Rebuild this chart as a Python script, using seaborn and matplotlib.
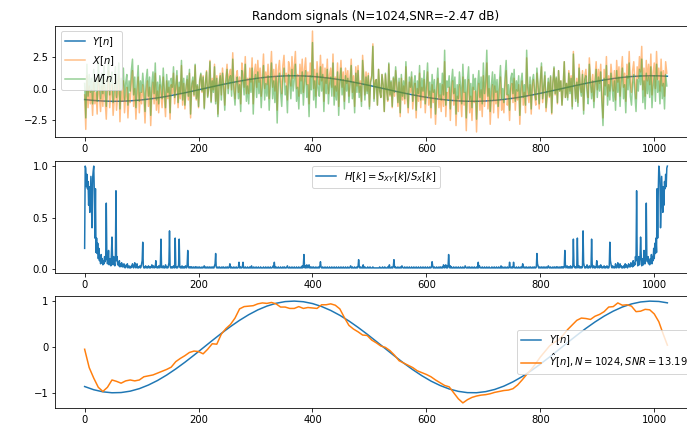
import numpy as np
import matplotlib
matplotlib.use("Agg")
import matplotlib.pyplot as plt
from matplotlib.ticker import MultipleLocator
import seaborn as sns

# ---------------------------------------------------------------- data
# clean signal Y[n], sampled every 16 samples (plus the last sample)
n_y = list(range(0, 1009, 16)) + [1023]
y_clean = [-0.863, -0.933, -0.978, -0.999, -0.994, -0.964, -0.909, -0.830, -0.731, -0.613,
           -0.479, -0.334, -0.179, -0.020, 0.140, 0.296, 0.444, 0.581, 0.703, 0.808,
           0.891, 0.952, 0.989, 1.000, 0.986, 0.946, 0.882, 0.796, 0.690, 0.566,
           0.427, 0.278, 0.121, -0.038, -0.197, -0.351, -0.495, -0.627, -0.744, -0.840,
           -0.916, -0.968, -0.996, -0.998, -0.974, -0.926, -0.854, -0.760, -0.647, -0.517,
           -0.374, -0.221, -0.063, 0.097, 0.254, 0.405, 0.545, 0.672, 0.781, 0.871,
           0.938, 0.981, 0.999, 0.992, 0.962]

# noise W[n] and observation X[n], every second sample
n_noise = list(range(0, 1024, 2))
w_noise = [
    0.4, -2.3, 1.9, -0.6, 1.1, -0.3, 0.8, -1.2, 1.5, -0.2, 0.7, -1.0, 2.1, 0.3, -0.8, 1.2,
    -0.4, 1.8, 0.1, -1.4, 0.9, 2.4, -0.5, 0.6, 1.3, -1.1, 0.2, 1.7, -0.7, 0.5, 2.0, -1.6,
    0.8, 0.0, 1.6, -0.9, 0.4, 1.1, -1.3, 0.6, -0.2, 1.4, 2.3, -0.5, 0.9, -1.5, 0.3, 1.8,
    -1.0, 0.6, -0.3, 1.2, 0.1, -1.8, 0.7, 1.5, -0.6, 0.9, -2.1, 0.4, 1.3, -0.4, 2.0, -0.9,
    0.5, -1.2, 1.0, 0.2, -0.8, 1.6, -0.1, -1.5, 1.1, -0.3, 0.6, -1.9, 0.8, 0.1, 1.7, -0.7,
    0.3, 1.4, -1.1, 0.5, -0.4, 2.2, -0.9, 0.8, -1.3, 0.2, 1.0, -0.6, 1.5, -2.0, 0.4, 0.9,
    -0.5, 1.9, -0.8, 0.3, -1.4, 0.7, 1.2, -0.2, 0.9, -1.6, 0.4, 1.3, -0.7, 0.0, 2.1, -1.1,
    0.6, -0.3, 1.7, -1.2, 0.8, -2.2, 0.2, 1.0, -0.9, 1.2, 0.1, -1.7, 0.5, 1.5, -0.4, 0.7,
    1.0, -0.6, 2.3, -0.2, -1.3, 0.4, 0.9, -0.8, 0.3, -1.8, 1.4, 0.6, -0.5, 1.9, -1.0, 0.2,
    -1.2, 0.8, -0.3, 1.6, -2.0, 0.5, 1.1, -0.7, 1.3, -0.4, 0.7, -1.5, 0.2, 1.8, -0.9, 0.4,
    -0.6, 1.0, -1.7, 0.3, 2.0, -0.8, 0.6, -1.1, 0.9, -2.7, 0.4, 1.2, -0.3, -1.4, 0.8, 1.6,
    -0.5, 0.2, -1.9, 1.1, 0.6, -0.8, 1.5, -0.2, 0.7, 1.9, -1.0, 0.1, -1.6, 0.9, -0.4, 1.3,
    -1.3, 0.5, 1.4, -0.7, 0.3, -2.2, 1.0, -0.1, 3.6, -0.9, 0.6, -1.5, 1.2, 0.0, -0.6, 1.7,
    -0.2, 1.1, -1.8, 0.8, -0.4, 1.5, -1.2, 0.3, 0.9, -0.6, 2.0, -1.3, 0.2, -0.9, 1.3, -2.1,
    0.4, 1.6, -0.5, 0.7, -1.6, 1.0, -0.2, 0.8, -1.1, 0.3, 1.8, -0.8, 0.5, -1.9, 1.2, -0.3,
    1.4, -0.7, 0.2, -1.4, 2.2, 0.6, -0.9, 0.9, -0.4, 1.0, -1.6, 0.5, 0.8, 3.3, -1.0, 0.4,
    0.7, -1.3, 1.5, -0.2, -0.7, 1.1, 0.3, -1.8, 1.2, 0.0, -0.9, 2.0, -0.5, 0.6, -1.4, 0.9,
    -0.3, 1.7, 0.4, -1.1, 0.8, -1.9, 1.1, -0.6, 0.6, -0.8, 2.1, -0.2, -1.5, 0.9, 0.1, 1.3,
    -1.0, 0.4, 1.0, -1.7, 0.6, -0.4, 1.8, -0.9, 0.8, -0.2, 1.4, -1.2, 0.3, 2.0, -0.6, 0.5,
    -1.5, 1.1, -0.3, 0.7, -2.0, 0.2, 1.6, -0.7, 0.4, -0.9, 1.2, -0.5, 3.0, -1.3, 0.6, 0.1,
    1.0, -1.6, 0.5, 1.5, -0.4, 0.9, -2.0, 0.3, -0.8, 1.3, 0.2, -1.2, 1.9, -0.3, 0.7, -2.3,
    0.6, 1.7, -0.9, 0.4, -1.5, 1.1, -0.1, 0.8, -2.4, 0.3, 1.4, -0.7, 0.9, -1.2, 2.0, -0.4,
    0.5, 3.0, -0.6, 1.0, -1.8, 0.2, 1.3, -0.9, 1.1, -0.3, 0.7, -1.4, 0.4, 1.8, -0.8, 0.0,
    -1.1, 0.9, 2.2, -0.5, 0.3, -1.7, 0.8, 1.2, -0.4, 1.5, -1.0, 0.6, -0.2, 1.0, -2.1, 0.5,
    1.2, -0.7, 0.3, -1.3, 3.0, 0.1, -0.5, 0.9, -1.6, 0.6, 1.1, -0.2, -0.9, 1.6, 0.4, -1.2,
    0.7, 2.0, -0.8, 0.2, 1.3, -1.5, -0.3, 0.8, -0.6, 1.0, -1.9, 0.5, 1.7, -0.4, 0.9, -1.1,
    1.4, -0.2, 0.6, -1.3, 0.1, 2.1, -0.7, 0.4, -0.9, 1.2, -0.4, 0.8, -1.6, 2.7, 0.3, -1.0,
    0.5, -1.4, 1.6, 0.0, -0.6, 1.1, -2.0, 0.7, 1.0, -0.3, -1.2, 1.9, 0.4, -0.8, 0.6, -1.5,
    0.2, 1.5, -0.7, 0.9, -0.2, 1.3, -1.1, -2.9, 0.8, -0.5, 1.8, -1.3, 0.3, -0.9, 1.2, 0.1,
    -1.0, 0.6, -1.7, 1.4, -0.3, 0.9, -1.4, 0.5, 1.6, -0.8, 0.3, -1.9, 1.0, -0.1, 2.0, -0.6,
    -1.3, 0.4, 1.1, -0.5, -1.8, 0.7, -0.2, 1.5, 0.3, 2.3, -1.1, 0.6, -1.6, 1.2, -0.4, 0.9,
    -0.7, 1.7, -1.5, 0.2, 1.0, -1.0, 1.9, -0.3, 0.6, -1.2, 1.3, -0.8, 0.4, -1.6, 1.1, 0.2,
]
x_obs = [
    -0.5, -3.2, 1.0, -1.5, 0.2, -1.2, -0.1, -2.1, 0.5, -1.2, -0.3, -2.0, 1.1, -0.7, -1.8, 0.2,
    -1.4, 0.8, -0.9, -2.4, -0.1, 1.4, -1.5, -0.4, 0.3, -2.1, -0.8, 0.7, -1.7, -0.5, 1.0, -2.6,
    -0.2, -1.0, 0.6, -1.9, -0.6, 0.1, -2.3, -0.4, -1.1, 0.5, 1.4, -1.4, 0.0, -2.4, -0.6, 0.9,
    -1.9, -0.3, -1.2, 0.3, -0.8, -2.7, -0.2, 0.6, -1.4, 0.1, -2.9, -0.4, 0.5, -1.2, 1.2, -1.7,
    -0.2, -1.9, 0.3, -0.5, -1.5, 0.9, -0.8, -2.2, 0.6, -0.8, 0.1, -2.4, 0.3, -0.4, 1.2, -1.2,
    -0.1, 1.0, -1.5, 0.1, -0.8, 1.8, -1.3, 0.4, -1.6, -0.1, 0.7, -0.9, 1.2, -2.3, 0.1, 0.6,
    -0.6, 1.8, -0.9, 0.2, -1.5, 0.6, 1.1, -0.3, 1.0, -1.5, 0.5, 1.4, -0.6, 0.1, 2.2, -1.0,
    0.8, -0.1, 1.9, -1.0, 1.0, -2.0, 0.4, 1.2, -0.5, 1.6, 0.5, -1.3, 0.9, 1.9, 0.0, 1.1,
    1.5, -0.1, 2.8, 0.3, -0.8, 0.9, 1.4, -0.3, 0.9, -1.2, 2.0, 1.2, 0.1, 2.5, -0.4, 0.8,
    -0.4, 1.6, 0.5, 2.4, -1.2, 1.3, 1.9, 0.1, 2.2, 0.5, 1.6, -0.6, 1.1, 2.7, 0.0, 1.3,
    0.3, 1.9, -0.8, 1.2, 2.9, 0.1, 1.5, -0.2, 1.9, -1.7, 1.4, 2.2, 0.7, -0.4, 1.8, 2.6,
    0.5, 1.2, -0.9, 2.1, 1.6, 0.2, 2.5, 0.8, 1.7, 2.9, 0.0, 1.1, -0.6, 1.9, 0.6, 2.3,
    -0.3, 1.5, 2.4, 0.3, 1.3, -1.2, 2.0, 0.9, 4.5, 0.0, 1.5, -0.6, 2.1, 0.9, 0.3, 2.6,
    0.6, 1.9, -1.0, 1.6, 0.4, 2.3, -0.4, 1.1, 1.6, 0.1, 2.7, -0.6, 0.9, -0.2, 2.0, -1.4,
    1.0, 2.2, 0.1, 1.3, -1.0, 1.6, 0.4, 1.4, -0.6, 0.8, 2.3, -0.3, 1.0, -1.4, 1.7, 0.2,
    1.8, -0.3, 0.6, -1.0, 2.6, 1.0, -0.5, 1.3, -0.2, 1.2, -1.4, 0.7, 1.0, 3.5, -0.8, 0.6,
    0.7, -1.3, 1.5, -0.2, -0.7, 1.1, 0.3, -1.8, 1.1, -0.1, -1.0, 1.9, -0.6, 0.5, -1.5, 0.8,
    -0.6, 1.4, 0.1, -1.4, 0.5, -2.2, 0.8, -0.9, 0.2, -1.2, 1.7, -0.6, -1.9, 0.5, -0.3, 0.9,
    -1.6, -0.2, 0.4, -2.3, 0.0, -1.0, 1.2, -1.5, 0.1, -0.9, 0.7, -1.9, -0.4, 1.3, -1.3, -0.2,
    -2.3, 0.3, -1.1, -0.1, -2.8, -0.6, 0.8, -1.5, -0.5, -1.8, 0.3, -1.4, 2.1, -2.2, -0.3, -0.8,
    0.1, -2.5, -0.4, 0.6, -1.3, 0.0, -2.9, -0.6, -1.8, 0.3, -0.8, -2.2, 0.9, -1.3, -0.3, -3.3,
    -0.4, 0.7, -1.9, -0.6, -2.5, 0.1, -1.1, -0.2, -3.4, -0.7, 0.4, -1.7, -0.1, -2.2, 1.0, -1.4,
    -0.5, 2.0, -1.6, 0.0, -2.8, -0.8, 0.3, -1.9, 0.2, -1.2, -0.2, -2.3, -0.5, 0.9, -1.7, -0.9,
    -1.9, 0.1, 1.4, -1.3, -0.5, -2.5, 0.0, 0.4, -1.1, 0.8, -1.7, -0.1, -0.9, 0.3, -2.8, -0.2,
    0.6, -1.3, -0.3, -1.9, 2.4, -0.5, -1.1, 0.3, -2.0, 0.2, 0.7, -0.6, -1.3, 1.2, 0.0, -1.6,
    0.4, 1.7, -1.1, -0.1, 1.0, -1.8, -0.6, 0.5, -0.7, 0.9, -2.0, 0.4, 1.6, -0.5, 0.8, -1.2,
    1.4, -0.2, 0.6, -1.3, 0.1, 2.1, -0.7, 0.4, -0.7, 1.4, -0.2, 1.0, -1.4, 2.9, 0.5, -0.8,
    0.8, -1.1, 1.9, 0.3, -0.3, 1.4, -1.7, 1.0, 1.5, 0.2, -0.7, 2.4, 0.9, -0.3, 1.1, -1.0,
    0.8, 2.1, -0.1, 1.5, 0.4, 1.9, -0.5, -2.3, 1.5, 0.2, 2.5, -0.6, 1.0, -0.2, 1.9, 0.8,
    -0.2, 1.4, -0.9, 2.2, 0.5, 1.7, -0.6, 1.3, 2.5, 0.1, 1.2, -1.0, 1.9, 0.8, 2.9, 0.3,
    -0.3, 1.4, 2.1, 0.5, -0.8, 1.7, 0.8, 2.5, 1.3, 3.3, -0.1, 1.6, -0.6, 2.2, 0.6, 1.9,
    0.3, 2.7, -0.5, 1.2, 2.0, 0.0, 2.9, 0.7, 1.6, -0.2, 2.3, 0.2, 1.4, -0.6, 2.1, 1.2,
]

# transfer estimate H[k] for k = 0..512; the spectrum of a real signal is
# conjugate-symmetric, so the upper half repeats these values in reverse
h_half = [
    0.20, 1.00, 0.98, 0.80, 0.92, 0.78, 0.85, 0.62, 0.80, 0.55, 0.72, 0.90, 0.60, 0.40, 0.88, 0.95,
    1.00, 0.75, 0.30, 0.78, 0.16, 0.30, 0.15, 0.25, 0.10, 0.20, 0.08, 0.12, 0.05, 0.14, 0.06, 0.10,
    0.04, 0.08, 0.05, 0.12, 0.07, 0.10, 0.64, 0.12, 0.05, 0.08, 0.18, 0.04, 0.06, 0.10, 0.03, 0.15,
    0.31, 0.10, 0.04, 0.12, 0.06, 0.03, 0.10, 0.76, 0.08, 0.12, 0.04, 0.06, 0.03, 0.08, 0.02, 0.05,
    0.03, 0.06, 0.02, 0.04, 0.02, 0.05, 0.03, 0.01, 0.02, 0.04, 0.02, 0.05, 0.01, 0.02, 0.03, 0.01,
    0.02, 0.01, 0.03, 0.02, 0.05, 0.02, 0.01, 0.03, 0.06, 0.02, 0.01, 0.02, 0.05, 0.01, 0.02, 0.01,
    0.02, 0.03, 0.01, 0.02, 0.05, 0.08, 0.26, 0.03, 0.01, 0.02, 0.01, 0.03, 0.02, 0.01, 0.02, 0.01,
    0.03, 0.02, 0.01, 0.02, 0.01, 0.02, 0.04, 0.02, 0.01, 0.03, 0.02, 0.01, 0.02, 0.08, 0.02, 0.01,
    0.02, 0.01, 0.03, 0.02, 0.01, 0.05, 0.29, 0.02, 0.01, 0.02, 0.03, 0.01, 0.02, 0.01, 0.04, 0.02,
    0.01, 0.02, 0.01, 0.03, 0.06, 0.37, 0.03, 0.01, 0.02, 0.01, 0.02, 0.01, 0.03, 0.02, 0.01, 0.30,
    0.03, 0.01, 0.02, 0.01, 0.02, 0.04, 0.29, 0.02, 0.01, 0.02, 0.01, 0.03, 0.01, 0.02, 0.01, 0.02,
    0.01, 0.03, 0.02, 0.01, 0.04, 0.18, 0.02, 0.01, 0.02, 0.01, 0.02, 0.01, 0.02, 0.01, 0.01, 0.02,
    0.01, 0.01, 0.02, 0.01, 0.02, 0.01, 0.01, 0.02, 0.01, 0.01, 0.02, 0.01, 0.01, 0.01, 0.02, 0.01,
    0.01, 0.02, 0.03, 0.01, 0.01, 0.02, 0.01, 0.01, 0.02, 0.01, 0.01, 0.02, 0.01, 0.01, 0.02, 0.01,
    0.01, 0.02, 0.01, 0.01, 0.03, 0.05, 0.15, 0.02, 0.01, 0.01, 0.02, 0.01, 0.01, 0.02, 0.01, 0.01,
    0.01, 0.02, 0.01, 0.01, 0.02, 0.01, 0.01, 0.01, 0.02, 0.01, 0.01, 0.02, 0.01, 0.01, 0.02, 0.05,
    0.01, 0.01, 0.02, 0.01, 0.01, 0.01, 0.02, 0.01, 0.01, 0.01, 0.02, 0.01, 0.01, 0.01, 0.02, 0.065,
    0.01, 0.01, 0.02, 0.01, 0.01, 0.02, 0.065, 0.01, 0.01, 0.01, 0.02, 0.01, 0.01, 0.01, 0.02, 0.01,
    0.01, 0.01, 0.02, 0.01, 0.01, 0.03, 0.01, 0.01, 0.01, 0.02, 0.01, 0.01, 0.01, 0.02, 0.01, 0.01,
    0.01, 0.02, 0.01, 0.01, 0.01, 0.02, 0.01, 0.01, 0.01, 0.01, 0.02, 0.01, 0.01, 0.01, 0.02, 0.01,
    0.01, 0.01, 0.02, 0.01, 0.01, 0.01, 0.02, 0.01, 0.01, 0.01, 0.02, 0.03, 0.01, 0.065, 0.01, 0.01,
    0.02, 0.01, 0.01, 0.01, 0.02, 0.01, 0.01, 0.01, 0.02, 0.01, 0.01, 0.01, 0.02, 0.01, 0.01, 0.02,
    0.01, 0.01, 0.01, 0.02, 0.03, 0.01, 0.01, 0.01, 0.02, 0.01, 0.01, 0.01, 0.02, 0.01, 0.01, 0.01,
    0.02, 0.01, 0.01, 0.01, 0.02, 0.01, 0.01, 0.01, 0.02, 0.01, 0.01, 0.01, 0.02, 0.01, 0.03, 0.01,
    0.04, 0.14, 0.02, 0.01, 0.03, 0.01, 0.04, 0.02, 0.01, 0.03, 0.04, 0.01, 0.02, 0.01, 0.01, 0.02,
    0.01, 0.01, 0.02, 0.01, 0.01, 0.01, 0.02, 0.01, 0.01, 0.01, 0.02, 0.01, 0.01, 0.03, 0.07, 0.02,
    0.01, 0.01, 0.02, 0.01, 0.01, 0.01, 0.02, 0.01, 0.01, 0.01, 0.02, 0.01, 0.01, 0.01, 0.02, 0.01,
    0.01, 0.01, 0.02, 0.01, 0.01, 0.01, 0.02, 0.01, 0.01, 0.01, 0.02, 0.01, 0.01, 0.01, 0.02, 0.01,
    0.01, 0.01, 0.02, 0.01, 0.01, 0.01, 0.02, 0.01, 0.01, 0.01, 0.02, 0.01, 0.01, 0.01, 0.02, 0.01,
    0.01, 0.01, 0.02, 0.03, 0.01, 0.01, 0.02, 0.01, 0.01, 0.01, 0.02, 0.01, 0.01, 0.01, 0.02, 0.01,
    0.02, 0.09, 0.03, 0.01, 0.01, 0.02, 0.01, 0.01, 0.01, 0.04, 0.01, 0.01, 0.02, 0.01, 0.01, 0.01,
    0.01, 0.02, 0.01, 0.01, 0.01, 0.02, 0.01, 0.01, 0.01, 0.01, 0.02, 0.01, 0.01, 0.01, 0.01, 0.01,
    0.01,
]

# Wiener estimate of Y[n], every 8 samples (plus the last sample)
n_hat = list(range(0, 1017, 8)) + [1023]
y_hat = [
    -0.05, -0.45, -0.68, -0.88, -0.97, -0.88, -0.72, -0.75, -0.79, -0.74, -0.72, -0.74, -0.72, -0.65, -0.63, -0.61,
    -0.57, -0.53, -0.49, -0.44, -0.32, -0.25, -0.19, -0.12, -0.09, -0.10, -0.15, -0.05, 0.07, 0.06, 0.28, 0.40,
    0.49, 0.63, 0.83, 0.88, 0.89, 0.90, 0.94, 0.96, 0.95, 0.97, 0.94, 0.87, 0.87, 0.84, 0.84, 0.88,
    0.84, 0.86, 0.85, 0.84, 0.92, 0.92, 0.94, 0.91, 0.83, 0.64, 0.47, 0.39, 0.33, 0.26, 0.25, 0.15,
    0.09, 0.02, -0.01, -0.08, -0.18, -0.30, -0.35, -0.40, -0.45, -0.52, -0.56, -0.60, -0.65, -0.72, -0.78, -0.84,
    -0.87, -1.00, -1.13, -1.22, -1.15, -1.10, -1.07, -1.05, -1.04, -1.02, -0.99, -0.97, -0.95, -0.94, -0.91, -0.83,
    -0.72, -0.60, -0.49, -0.36, -0.22, -0.10, 0.02, 0.10, 0.15, 0.26, 0.38, 0.48, 0.58, 0.63, 0.62, 0.60,
    0.67, 0.71, 0.77, 0.87, 0.88, 0.96, 0.91, 0.92, 0.89, 0.77, 0.78, 0.82, 0.81, 0.72, 0.55, 0.27,
    0.04,
]

title = "Random signals (N=1024,SNR=-2.47 dB)"

# ---------------------------------------------------------------- figure
h_full = np.array(h_half + h_half[1:512][::-1])
k_bins = np.arange(len(h_full))

fig = plt.figure(figsize=(687 / 72, 427 / 72), dpi=72)
W, H = 687.0, 427.0
left, width = 55.5 / W, 641.0 / W
ax1 = fig.add_axes([left, 1 - 137 / H, width, 111 / H])
ax2 = fig.add_axes([left, 1 - 273 / H, width, 112 / H])
ax3 = fig.add_axes([left, 1 - 408 / H, width, 112 / H])

c_blue, c_orange, c_green = "#1f77b4", "#ff7f0e", "#2ca02c"

# top: clean signal, observation and noise
sns.lineplot(x=np.array(n_y), y=np.array(y_clean), ax=ax1, color=c_blue,
             label="$Y[n]$", estimator=None, sort=False)
sns.lineplot(x=np.array(n_noise), y=np.array(x_obs), ax=ax1, color=c_orange,
             alpha=0.5, label="$X[n]$", estimator=None, sort=False)
sns.lineplot(x=np.array(n_noise), y=np.array(w_noise), ax=ax1, color=c_green,
             alpha=0.5, label="$W[n]$", estimator=None, sort=False)
ax1.legend(loc="upper left", fontsize=10)
ax1.set_title(title, fontsize=12)
ax1.yaxis.set_major_locator(MultipleLocator(2.5))

# middle: transfer function estimate
sns.lineplot(x=k_bins, y=h_full, ax=ax2, color=c_blue,
             label="$H[k]=S_{XY}[k]/S_X[k]$", estimator=None, sort=False)
ax2.legend(loc="upper center", fontsize=10)
ax2.yaxis.set_major_locator(MultipleLocator(0.5))

# bottom: clean signal vs. estimate
sns.lineplot(x=np.array(n_y), y=np.array(y_clean), ax=ax3, color=c_blue,
             label="$Y[n]$", estimator=None, sort=False)
sns.lineplot(x=np.array(n_hat), y=np.array(y_hat), ax=ax3, color=c_orange,
             label=r"$\hat{Y}[n], N=1024, SNR=13.19$", estimator=None, sort=False)
ax3.legend(loc="center right", fontsize=10)
ax3.yaxis.set_major_locator(MultipleLocator(1.0))

for ax in (ax1, ax2, ax3):
    ax.set_xlabel("")
    ax.set_ylabel("")
    ax.tick_params(labelsize=10)

fig.savefig("out.png", dpi=72)
